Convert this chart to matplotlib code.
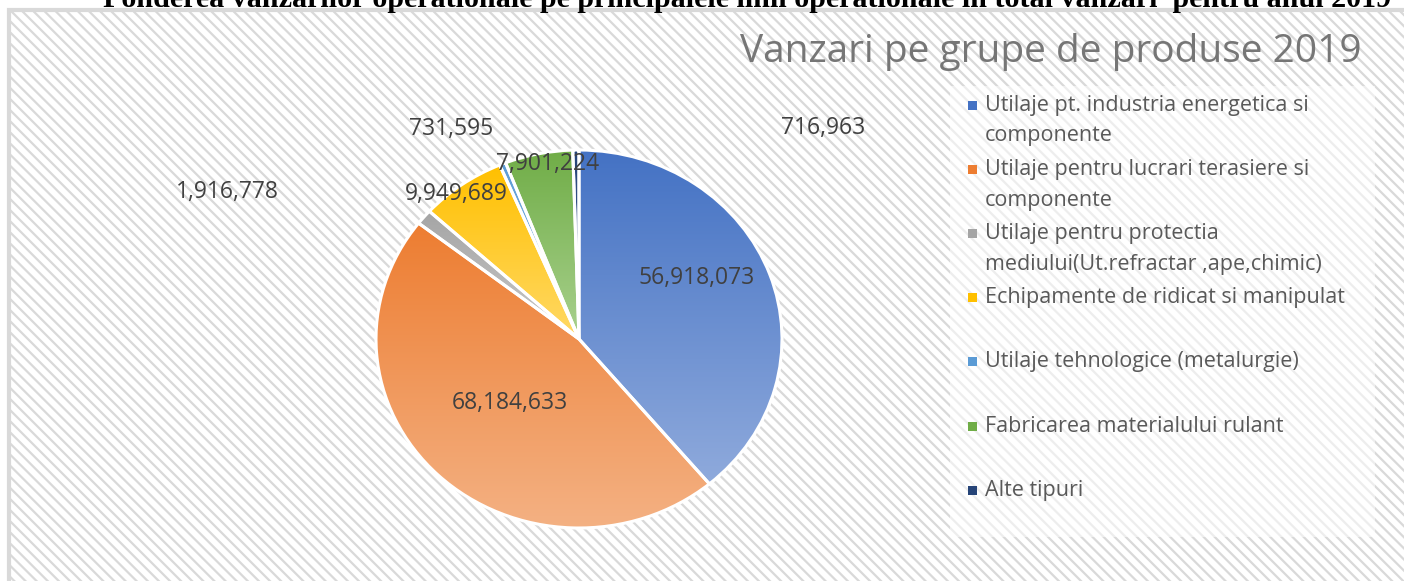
import numpy as np
import matplotlib.pyplot as plt
import matplotlib.colors as mcolors
from matplotlib.patches import Rectangle

plt.rcParams['font.family'] = ['Open Sans', 'DejaVu Sans']
plt.rcParams['hatch.color'] = '#e2e2e2'
plt.rcParams['hatch.linewidth'] = 1.6

categories = ["Utilaje pt. industria energetica si\ncomponente",
              "Utilaje pentru lucrari terasiere si\ncomponente",
              "Utilaje pentru protectia\nmediului(Ut.refractar ,ape,chimic)",
              "Echipamente de ridicat si manipulat",
              "Utilaje tehnologice (metalurgie)",
              "Fabricarea materialului rulant",
              "Alte tipuri"]
values = [56918073, 68184633, 1916778, 9949689, 731595, 7901224, 716963]
top_colors = ['#4472C4', '#ED7D31', '#A5A5A5', '#FFC000', '#5B9BD5', '#70AD47', '#264478']
bottom_colors = ['#8FAADC', '#F4B183', '#C9C9C9', '#FFD966', '#9DC3E6', '#A9D18E', '#4F6FA8']

# label placement: radius factor and angle shift (deg) from wedge mid-angle
label_r = [0.665, 0.48, 1.90, 0.98, 1.28, 0.94, 1.64]
label_dang = [9, -1, 16, 3, 7.5, -2, -48]

W, H = 1404, 581
fig = plt.figure(figsize=(W / 100, H / 100), dpi=100)

# hatched chart area with light border
bg = fig.add_axes([0, 0, 1, 1])
bg.set_xlim(0, W)
bg.set_ylim(H, 0)
bg.axis('off')
bg.add_patch(Rectangle((9, 10), W, H, facecolor='white', edgecolor='#d9d9d9',
                       linewidth=3, hatch='\\\\\\'))
# lighter legend box
bg.add_patch(Rectangle((950, 86), 425, 451, facecolor='white', edgecolor='none', alpha=0.55))

fig.text(747.5 / W, 1 - 7 / H, "Ponderea vanzarilor operationale pe principalele linii operationale in total vanzari  pentru anul 2019",
         family='Liberation Serif', fontsize=21.6, fontweight='bold', ha='center', va='baseline', color='black')
fig.text(1362 / W, 1 - 52 / H, "Vanzari pe grupe de produse 2019", fontsize=28,
         color='#767676', ha='right', va='center')

# pie
cx, cy, rx, ry = 579, 339, 203, 189
ax = fig.add_axes([(cx - rx) / W, 1 - (cy + ry) / H, 2 * rx / W, 2 * ry / H])
wedges, _ = ax.pie(values, startangle=90, counterclock=False, radius=1,
                   wedgeprops=dict(facecolor='none', edgecolor='white', linewidth=2.2))
ax.set_aspect('auto')
for w, c0, c1 in zip(wedges, top_colors, bottom_colors):
    ext = w.get_path().get_extents()
    a = np.array(mcolors.to_rgb(c0))
    b = np.array(mcolors.to_rgb(c1))
    t = np.linspace(0, 1, 256)[:, None]
    grad = (a[None, :] * (1 - t) + b[None, :] * t)[:, None, :]
    im = ax.imshow(grad, extent=[ext.x0, ext.x1, ext.y0, ext.y1], aspect='auto', zorder=0)
    im.set_clip_path(w)
ax.set_xlim(-1, 1)
ax.set_ylim(-1, 1)
ax.axis('off')

for w, v, r, d in zip(wedges, values, label_r, label_dang):
    mid = np.deg2rad((w.theta1 + w.theta2) / 2 + d)
    ax.text(r * np.cos(mid), r * np.sin(mid), f"{v:,}", fontsize=16.5, color='#404040',
            ha='center', va='center', clip_on=False, zorder=5)

# legend
for i, (lab, c0, c1) in enumerate(zip(categories, top_colors, bottom_colors)):
    y = 105 + 64.2 * i
    bg.add_patch(Rectangle((968, y - 4.5), 9, 9, facecolor=c0, edgecolor='none'))
    for j, line in enumerate(lab.split('\n')):
        bg.text(985, y + 31 * j, line, fontsize=15.5, color='#595959', ha='left', va='center')

fig.savefig('out.png', dpi=100)
